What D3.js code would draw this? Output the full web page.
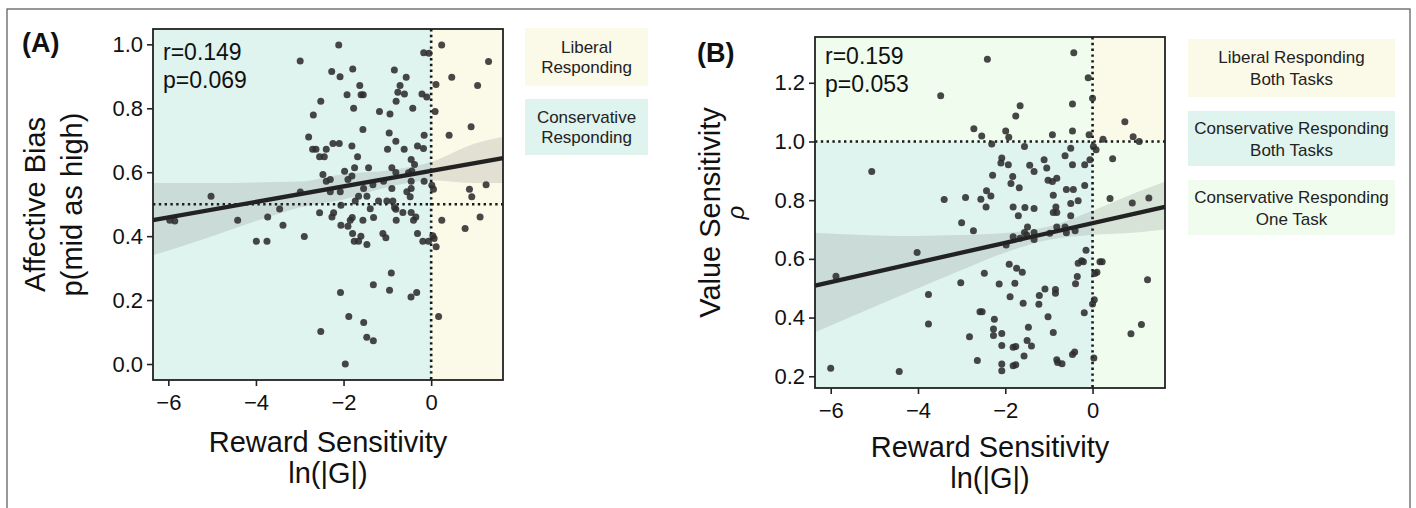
<!DOCTYPE html>
<html>
<head>
<meta charset="utf-8">
<script src="https://cdn.jsdelivr.net/npm/d3@7"></script>
<style>
  body { margin: 0; background: #fff; }
  svg { display: block; font-family: "Liberation Sans", Arial, Helvetica, sans-serif; }
</style>
</head>
<body>
<svg id="drawing_region"></svg>
<script>
// ---- panel A: reward sensitivity vs affective bias ----
const pointsA = [
  // upper part
  [-2.99,0.948],[-2.11,0.998],[-2.27,0.915],[-2.08,0.899],[-1.79,0.923],[-1.63,0.871],[-1.92,0.842],
  [-1.60,0.842],[-1.55,0.842],[-2.52,0.822],[-2.69,0.779],[-1.77,0.80],[-1.18,0.79],[-0.94,0.782],
  [-0.84,0.92],[-0.57,0.897],[-0.71,0.871],[-0.76,0.85],[-0.61,0.845],[-0.80,0.822],[-0.42,0.80],
  [-0.21,0.845],[-0.10,0.835],[-0.17,0.974],[-0.05,0.972],[0.24,0.998],[0.11,0.874],[0.47,0.897],
  [1.06,0.871],[1.31,0.946],[0.09,0.79],
  // middle part
  [-1.558,0.734],[0.912,0.742],[-0.958,0.723],[-0.160,0.716],[0.410,0.716],[-0.806,0.697],[-2.797,0.710],
  [-2.242,0.690],[-2.098,0.690],[-1.809,0.682],[-0.312,0.682],[-0.175,0.674],[-2.706,0.672],[-2.630,0.672],
  [-2.395,0.672],[-0.996,0.672],[-0.616,0.672],[-2.547,0.648],[-2.440,0.648],[-1.680,0.648],[-0.456,0.640],
  [-0.380,0.624],[-1.748,0.614],[-1.429,0.614],[-0.897,0.614],[-1.976,0.603],[-0.806,0.599],[-0.517,0.598],
  [-0.441,0.604],[-2.471,0.593],[-1.809,0.588],[-1.900,0.577],[-2.395,0.572],[-2.303,0.577],[-1.087,0.572],
  [-1.330,0.561],[-0.456,0.572],[-0.160,0.572],[0.015,0.559],[0.053,0.547],[1.254,0.561],[0.874,0.547],
  [0.927,0.523],[-2.987,0.538],[-2.303,0.539],[-2.075,0.539],[-1.543,0.549],[-0.897,0.549],[-0.456,0.549],
  [-0.555,0.539],[-0.479,0.523],[-1.657,0.525],[-1.467,0.525],[-1.733,0.510],[-1.201,0.510],[-1.011,0.510],
  [-0.874,0.510],[-2.060,0.497],[-0.836,0.490],[-0.806,0.484],[-1.391,0.486],[-3.459,0.485],[-5.025,0.525],
  [-2.547,0.473],[-2.227,0.473],[-2.265,0.460],[-0.646,0.474],[-0.456,0.474],[-0.350,0.460],[-0.403,0.450],
  [-1.802,0.458],[-1.847,0.450],[-1.558,0.450],[-1.315,0.458],[-0.798,0.450],[-3.732,0.460],[-4.417,0.450],
  [-5.967,0.450],[-5.853,0.447],[0.243,0.450],[1.117,0.460],[-3.383,0.434],[-2.060,0.434],[-1.900,0.431],
  [0.775,0.424],[-1.794,0.408],[-1.604,0.400],[-1.102,0.408],[-1.034,0.395],[-0.312,0.408],[-2.896,0.399],
  [-3.991,0.384],[-3.748,0.384],[-1.756,0.384],[-1.657,0.384],[-1.467,0.374],[-0.190,0.384],[-0.061,0.384],
  [0.038,0.401],[0.068,0.393],[0.114,0.367],
  // lower part
  [-0.91,0.285],[-0.95,0.231],[-1.32,0.248],[-2.07,0.224],[-1.88,0.149],[-1.54,0.13],[-1.47,0.084],
  [-1.32,0.073],[-2.52,0.102],[-1.96,0.0],[-0.46,0.21],[-0.33,0.224],[0.17,0.149]
];
const fitXA = [-6.35, 1.64];
const fitYA = [0.450, 0.644];
const bandXA = [-6.35, -5, -4, -3, -2, -1, 0, 1, 1.64];
const bandLoA = [0.34, 0.40, 0.447, 0.49, 0.515, 0.553, 0.575, 0.566, 0.566];
const bandHiA = [0.566, 0.566, 0.568, 0.571, 0.594, 0.605, 0.632, 0.69, 0.71];
const statsA = ['r=0.149', 'p=0.069'];
const tickXA = [-6, -4, -2, 0];
const tickYA = [0, 0.2, 0.4, 0.6, 0.8, 1.0];

// ---- panel B: reward sensitivity vs value sensitivity ----
const pointsB = [
  [-2.41,1.28],[-3.48,1.156],[-0.43,1.302],[-0.10,1.217],[-0.46,1.128],[0.0,1.147],[-1.66,1.122],
  [-1.76,1.087],[-2.72,1.043],[-2.54,1.019],[-2.31,0.991],[-1.99,1.036],[-1.92,1.014],[-1.56,0.983],
  [-0.92,1.023],[-0.46,1.036],[-0.08,1.023],[0.24,1.008],[0.08,0.972],[0.02,0.983],[0.46,0.941],
  [-5.06,0.898],[-2.08,0.944],[-2.10,0.927],[-1.93,0.921],[-2.29,0.885],[-1.83,0.881],[-1.87,0.857],
  [-1.68,0.842],[-1.44,0.919],[-1.34,0.898],[-1.11,0.938],[-1.05,0.91],[-1.02,0.868],[-0.92,0.864],
  [-0.82,0.875],[-0.63,0.951],[-0.50,0.977],[-0.46,0.921],[-0.18,0.921],[-0.06,0.938],[-0.60,0.836],
  [-0.44,0.836],[-0.18,0.85],[0.74,1.067],[0.93,1.016],[1.07,1.0],
  [-3.40,0.802],[-2.91,0.809],[-2.56,0.803],[-2.33,0.814],[-2.43,0.832],[-2.44,0.777],[-1.82,0.777],
  [-1.55,0.775],[-1.70,0.747],[-1.34,0.772],[-0.90,0.817],[-0.84,0.777],[-0.82,0.758],[-0.90,0.758],
  [-0.50,0.789],[-0.33,0.798],[-0.50,0.747],[0.40,0.806],[-3.0,0.723],[-2.73,0.696],[-1.49,0.709],
  [-1.56,0.690],[-1.34,0.690],[-1.51,0.681],[-1.82,0.675],[-1.98,0.647],[-1.66,0.670],[-1.34,0.666],
  [-0.98,0.687],[-0.82,0.709],[-0.63,0.709],[-0.60,0.689],[-0.40,0.696],[-4.02,0.622],[-5.88,0.541],
  [-3.02,0.519],[-2.48,0.551],[-2.14,0.514],[-1.91,0.582],[-1.74,0.568],[-1.61,0.554],[-1.78,0.517],
  [-1.89,0.471],[-1.59,0.449],[-3.76,0.479],[-3.76,0.378],[-2.58,0.420],[-2.53,0.420],[-2.25,0.394],
  [-2.27,0.361],[-2.27,0.339],[-2.08,0.346],[-2.82,0.335],[-2.08,0.305],[-1.82,0.299],[-1.76,0.301],
  [-1.47,0.367],[-1.50,0.322],[-1.40,0.303],[-1.57,0.269],[-1.09,0.497],[-1.22,0.475],[-1.23,0.445],
  [-0.85,0.496],[-0.85,0.483],[-1.02,0.403],[-0.90,0.349],
  [0.91,0.79],[1.29,0.807],[-0.15,0.629],[-0.33,0.585],[-0.25,0.594],[-0.21,0.59],[0.17,0.59],
  [0.22,0.59],[0.10,0.554],[0.05,0.55],[-0.35,0.54],[-0.39,0.515],[1.26,0.529],[0.04,0.461],
  [0.0,0.446],[-0.19,0.416],[1.12,0.376],[0.88,0.345],[-0.41,0.283],[-0.46,0.274],[0.03,0.262],
  [-0.70,0.243],[-0.82,0.256],[-0.80,0.247],
  [-2.64,0.254],[-2.08,0.242],[-2.08,0.219],[-1.82,0.236],[-1.76,0.239],[-6.0,0.227],[-4.43,0.216]
];
const fitXB = [-6.36, 1.66];
const fitYB = [0.509, 0.777];
const bandXB = [-6.36, -5, -4, -3, -2, -1, 0, 1, 1.66];
const bandLoB = [0.35, 0.437, 0.50, 0.562, 0.622, 0.665, 0.682, 0.69, 0.70];
const bandHiB = [0.688, 0.68, 0.678, 0.681, 0.688, 0.71, 0.764, 0.826, 0.863];
const statsB = ['r=0.159', 'p=0.053'];
const tickXB = [-6, -4, -2, 0];
const tickYB = [0.2, 0.4, 0.6, 0.8, 1.0, 1.2];

const TEAL = '#dff3ef';
const CREAM = '#fbf9e8';
const GREEN = '#effcee';

const svg = d3.select('#drawing_region')
    .attr('width', 1416)
    .attr('height', 508);

// outer frame of the figure
svg.append('rect')
    .attr('x', 7).attr('y', 9)
    .attr('width', 1403).attr('height', 530)
    .attr('fill', 'none')
    .attr('stroke', '#555')
    .attr('stroke-width', 1.2);

class ScatterPanel {

    constructor(config, data) {
        this.config = config;
        this.data = data;
        this.init();
    }

    init() {
        let self = this;
        const c = self.config;

        self.chart = svg.append('g')
            .attr('transform', `translate(${c.left}, ${c.top})`);

        self.xscale = d3.scaleLinear().domain(c.xDomain).range([0, c.width]);
        self.yscale = d3.scaleLinear().domain(c.yDomain).range([c.height, 0]);
    }

    render() {
        let self = this;
        const c = self.config;
        const d = self.data;
        const xs = self.xscale, ys = self.yscale;
        const clampX = v => xs(Math.max(c.xDomain[0], Math.min(c.xDomain[1], v)));
        const clampY = v => ys(Math.max(c.yDomain[0], Math.min(c.yDomain[1], v)));

        // shaded response regions
        self.chart.selectAll('.region')
            .data(c.regions)
            .enter()
            .append('rect')
            .attr('x', r => clampX(r.x0))
            .attr('y', r => clampY(r.y1))
            .attr('width', r => clampX(r.x1) - clampX(r.x0))
            .attr('height', r => clampY(r.y0) - clampY(r.y1))
            .attr('fill', r => r.fill);

        // reference lines
        self.chart.append('line')
            .attr('x1', xs(c.vRef)).attr('x2', xs(c.vRef))
            .attr('y1', 0).attr('y2', c.height)
            .attr('stroke', '#1a1a1a').attr('stroke-width', 2.6)
            .attr('stroke-dasharray', '2.4,3.4');
        self.chart.append('line')
            .attr('x1', 0).attr('x2', c.width)
            .attr('y1', ys(c.hRef)).attr('y2', ys(c.hRef))
            .attr('stroke', '#1a1a1a').attr('stroke-width', 2.6)
            .attr('stroke-dasharray', '2.4,3.4');

        // points
        self.chart.selectAll('.dot')
            .data(d.points)
            .enter()
            .append('circle')
            .attr('cx', p => xs(p[0]))
            .attr('cy', p => ys(p[1]))
            .attr('r', 3.5)
            .attr('fill', '#2e2e2e')
            .attr('fill-opacity', 0.88);

        // confidence band + fit
        const band = d.bandX.map((x, i) => ({ x: x, lo: d.bandLo[i], hi: d.bandHi[i] }));
        const area = d3.area()
            .x(b => xs(b.x))
            .y0(b => ys(b.lo))
            .y1(b => ys(b.hi))
            .curve(d3.curveMonotoneX);
        self.chart.append('path')
            .attr('d', area(band))
            .attr('fill', '#3a3a3a')
            .attr('fill-opacity', 0.13);

        const fit = d.fitX.map((x, i) => [x, d.fitY[i]]);
        self.chart.append('path')
            .attr('d', d3.line().x(f => xs(f[0])).y(f => ys(f[1]))(fit))
            .attr('fill', 'none')
            .attr('stroke', '#222')
            .attr('stroke-width', 4.3);

        // panel border
        self.chart.append('rect')
            .attr('width', c.width).attr('height', c.height)
            .attr('fill', 'none')
            .attr('stroke', '#222')
            .attr('stroke-width', 1.8);

        // axes
        const xaxis = self.chart.append('g')
            .attr('transform', `translate(0, ${c.height})`)
            .call(d3.axisBottom(xs).tickValues(c.xTicks).tickSize(6).tickPadding(8).tickFormat(d3.format('d')));
        const yaxis = self.chart.append('g')
            .call(d3.axisLeft(ys).tickValues(c.yTicks).tickSize(6).tickPadding(4).tickFormat(d3.format('.1f')));
        [xaxis, yaxis].forEach(a => {
            a.select('.domain').remove();
            a.selectAll('line').attr('stroke', '#222').attr('stroke-width', 1.6);
            a.selectAll('text')
                .attr('fill', '#111')
                .style('font-size', '22px')
                .style('font-family', '"Liberation Sans", Arial, sans-serif');
        });

        // correlation stats
        self.chart.selectAll('.stat')
            .data(d.stats)
            .enter()
            .append('text')
            .attr('x', 10)
            .attr('y', (s, i) => c.statY + i * 28)
            .attr('fill', '#111')
            .style('font-size', '23px')
            .text(s => s);

        // titles
        c.xTitle.forEach((t, i) => {
            self.chart.append('text')
                .attr('x', c.width / 2)
                .attr('y', c.height + c.xTitleY + i * 31)
                .attr('text-anchor', 'middle')
                .attr('fill', '#111')
                .style('font-size', '29px')
                .text(t);
        });
        c.yTitle.forEach(t => {
            self.chart.append('text')
                .attr('transform', `translate(${t.x}, ${c.height / 2}) rotate(-90)`)
                .attr('text-anchor', 'middle')
                .attr('fill', '#111')
                .style('font-size', t.size + 'px')
                .style('font-style', t.italic ? 'italic' : 'normal')
                .text(t.text);
        });

        svg.append('text')
            .attr('x', c.tag.x).attr('y', c.tag.y)
            .attr('fill', '#111')
            .style('font-size', '27px')
            .style('font-weight', 'bold')
            .text(c.tag.text);

        // legend boxes
        const legend = svg.append('g');
        c.legend.forEach(l => {
            legend.append('rect')
                .attr('x', l.x).attr('y', l.y)
                .attr('width', l.w).attr('height', l.h)
                .attr('fill', l.fill);
            l.lines.forEach((t, i) => {
                legend.append('text')
                    .attr('x', l.x + l.w / 2)
                    .attr('y', l.y + l.h / 2 - (l.lines.length - 1) * l.gap / 2 + 6 + i * l.gap)
                    .attr('text-anchor', 'middle')
                    .attr('fill', '#222')
                    .style('font-size', '17px')
                    .text(t);
            });
        });
    }
}

const panelA = new ScatterPanel({
    left: 153, top: 29, width: 350, height: 351,
    xDomain: [-6.35, 1.64], yDomain: [-0.05, 1.048],
    xTicks: tickXA, yTicks: tickYA,
    vRef: 0, hRef: 0.5,
    regions: [
        { x0: -Infinity, x1: 0, y0: -Infinity, y1: Infinity, fill: TEAL },
        { x0: 0, x1: Infinity, y0: -Infinity, y1: Infinity, fill: CREAM }
    ],
    statY: 31,
    xTitle: ['Reward Sensitivity', 'ln(|G|)'],
    xTitleY: 72,
    yTitle: [
        { text: 'Affective Bias', x: 45 - 153, size: 29 },
        { text: 'p(mid as high)', x: 82 - 153, size: 29 }
    ],
    tag: { text: '(A)', x: 22, y: 52 },
    legend: [
        { x: 525, y: 28, w: 123, h: 58, fill: CREAM, gap: 20, lines: ['Liberal', 'Responding'] },
        { x: 525, y: 99, w: 123, h: 56, fill: TEAL, gap: 20, lines: ['Conservative', 'Responding'] }
    ]
}, {
    points: pointsA, fitX: fitXA, fitY: fitYA,
    bandX: bandXA, bandLo: bandLoA, bandHi: bandHiA, stats: statsA
});
panelA.render();

const panelB = new ScatterPanel({
    left: 815, top: 37, width: 350, height: 351,
    xDomain: [-6.36, 1.66], yDomain: [0.16, 1.356],
    xTicks: tickXB, yTicks: tickYB,
    vRef: 0, hRef: 1.0,
    regions: [
        { x0: -Infinity, x1: 0, y0: -Infinity, y1: 1, fill: TEAL },
        { x0: -Infinity, x1: 0, y0: 1, y1: Infinity, fill: GREEN },
        { x0: 0, x1: Infinity, y0: 1, y1: Infinity, fill: CREAM },
        { x0: 0, x1: Infinity, y0: -Infinity, y1: 1, fill: GREEN }
    ],
    statY: 27,
    xTitle: ['Reward Sensitivity', 'ln(|G|)'],
    xTitleY: 69,
    yTitle: [
        { text: 'Value Sensitivity', x: 720 - 815, size: 29 },
        { text: 'ρ', x: 744 - 815, size: 24, italic: true }
    ],
    tag: { text: '(B)', x: 697, y: 62 },
    legend: [
        { x: 1188, y: 39, w: 207, h: 58, fill: CREAM, gap: 22, lines: ['Liberal Responding', 'Both Tasks'] },
        { x: 1188, y: 111, w: 207, h: 55, fill: TEAL, gap: 22, lines: ['Conservative Responding', 'Both Tasks'] },
        { x: 1188, y: 180, w: 207, h: 55, fill: GREEN, gap: 22, lines: ['Conservative Responding', 'One Task'] }
    ]
}, {
    points: pointsB, fitX: fitXB, fitY: fitYB,
    bandX: bandXB, bandLo: bandLoB, bandHi: bandHiB, stats: statsB
});
panelB.render();
</script>
</body>
</html>
